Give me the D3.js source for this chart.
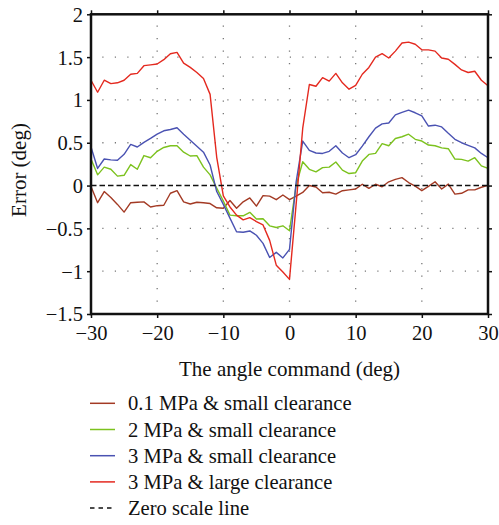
<!DOCTYPE html>
<html>
<head>
<meta charset="utf-8">
<script src="https://cdn.jsdelivr.net/npm/d3@7"></script>
<style>
  html, body { margin: 0; padding: 0; background: #fff; }
  svg { display: block; }
  text { font-family: "Liberation Serif", "DejaVu Serif", serif; fill: #111; }
</style>
</head>
<body>
<svg id="chart" width="499" height="525"></svg>
<script>
// ---- data ----
const angles = [-30,-29,-28,-27,-26,-25,-24,-23,-22,-21,-20,-19,-18,-17,-16,-15,-14,-13,-12,-11,-10,-9,-8,-7,-6,-5,-4,-3,-2,-1,0,1,2,3,4,5,6,7,8,9,10,11,12,13,14,15,16,17,18,19,20,21,22,23,24,25,26,27,28,29,30];

const err01Small = [-0.01,-0.20,-0.07,-0.14,-0.22,-0.31,-0.20,-0.195,-0.19,-0.25,-0.235,-0.23,-0.09,-0.06,-0.19,-0.215,-0.195,-0.20,-0.21,-0.26,-0.265,-0.175,-0.265,-0.19,-0.145,-0.24,-0.117,-0.123,-0.165,-0.11,-0.165,-0.123,-0.08,0.0,-0.017,-0.084,-0.078,-0.10,-0.06,-0.05,-0.04,0.015,-0.033,0.015,-0.014,0.044,0.072,0.092,0.035,-0.006,-0.06,-0.01,0.044,-0.04,0.017,-0.10,-0.09,-0.05,-0.05,-0.02,0.003];

const err2Small = [0.31,0.125,0.215,0.19,0.11,0.12,0.245,0.19,0.35,0.325,0.40,0.445,0.465,0.465,0.39,0.345,0.35,0.215,0.125,-0.03,-0.18,-0.345,-0.353,-0.353,-0.313,-0.39,-0.388,-0.47,-0.49,-0.47,-0.528,0.0,0.278,0.19,0.16,0.21,0.215,0.275,0.18,0.14,0.15,0.286,0.364,0.376,0.49,0.465,0.55,0.57,0.60,0.54,0.52,0.473,0.465,0.44,0.43,0.31,0.306,0.286,0.325,0.23,0.20];

const err3Small = [0.45,0.20,0.31,0.30,0.295,0.365,0.48,0.45,0.505,0.55,0.60,0.64,0.655,0.675,0.60,0.53,0.46,0.39,0.24,-0.07,-0.22,-0.38,-0.54,-0.545,-0.53,-0.58,-0.675,-0.84,-0.78,-0.845,-0.745,0.04,0.52,0.41,0.38,0.375,0.40,0.465,0.38,0.325,0.36,0.46,0.57,0.67,0.72,0.73,0.825,0.855,0.88,0.85,0.815,0.695,0.705,0.685,0.61,0.54,0.50,0.47,0.44,0.375,0.325];

const err3Large = [1.23,1.09,1.23,1.19,1.20,1.23,1.30,1.31,1.40,1.41,1.42,1.47,1.54,1.555,1.43,1.38,1.32,1.25,1.065,0.33,-0.12,-0.25,-0.345,-0.40,-0.375,-0.42,-0.46,-0.64,-0.93,-1.01,-1.096,-0.22,0.67,1.18,1.16,1.26,1.22,1.31,1.20,1.125,1.17,1.30,1.38,1.50,1.54,1.49,1.57,1.665,1.675,1.65,1.585,1.585,1.57,1.49,1.475,1.415,1.35,1.32,1.335,1.23,1.165];

const seriesNames = ["0.1 MPa & small clearance","2 MPa & small clearance","3 MPa & small clearance","3 MPa & large clearance"];
const seriesColors = ["#a33a24","#7cc21e","#4a52b2","#e4291f"];
const zeroLabel = "Zero scale line";

const xTicks = [-30,-20,-10,0,10,20,30];
const yTicks = [2,1.5,1,0.5,0,-0.5,-1,-1.5];
const xTitle = "The angle command (deg)";
const yTitle = "Error (deg)";

// ---- layout ----
const svg = d3.select("#chart");
const L = 91, R = 488, T = 14.3, B = 314;
const x = d3.scaleLinear().domain([-30,30]).range([L,R]);
const y = d3.scaleLinear().domain([-1.5,2]).range([B,T]);
const fmt = v => (v < 0 ? "\u2212" + Math.abs(v) : String(v));

// grid (dotted)
const grid = svg.append("g").attr("stroke","#777").attr("stroke-width",1.3)
  .attr("stroke-dasharray","1.2,11.3").attr("fill","none");
xTicks.filter(v => v > -30 && v < 30).forEach(v => {
  grid.append("line").attr("x1",x(v)).attr("x2",x(v)).attr("y1",T).attr("y2",B)
    .attr("stroke-dashoffset",-11.3);
});
yTicks.filter(v => v > -1.5 && v < 2 && v !== 0).forEach(v => {
  grid.append("line").attr("x1",L).attr("x2",R).attr("y1",y(v)).attr("y2",y(v))
    .attr("stroke-dashoffset",-11.3);
});

// series
const allSeries = [err01Small, err2Small, err3Small, err3Large];
const line = d3.line().x((d,i) => x(angles[i])).y(d => y(d));
allSeries.forEach((s,k) => {
  svg.append("path").datum(s).attr("d",line).attr("fill","none")
    .attr("stroke",seriesColors[k]).attr("stroke-width",1.4).attr("stroke-linejoin","round");
});

// zero line
svg.append("line").attr("x1",L).attr("x2",R).attr("y1",y(0)).attr("y2",y(0))
  .attr("stroke","#111").attr("stroke-width",1.5).attr("stroke-dasharray","5.5,3");

// axes (outward ticks)
const axB = d3.axisBottom(x).tickValues(xTicks).tickSize(4).tickFormat(fmt);
const axT = d3.axisTop(x).tickValues(xTicks).tickSize(4).tickFormat("");
const axLf = d3.axisLeft(y).tickValues(yTicks).tickSize(4).tickFormat(fmt);
const axRt = d3.axisRight(y).tickValues(yTicks).tickSize(4).tickFormat("");
function styleAxis(g){
  g.select(".domain").remove();
  g.attr("font-family",null);
  g.selectAll(".tick line").attr("stroke","#111").attr("stroke-width",1.5);
  g.selectAll(".tick text").attr("font-size",20.5).attr("fill","#111");
}
svg.append("g").attr("transform",`translate(0,${B})`).call(axB).call(styleAxis)
  .selectAll(".tick text").attr("dy",null).attr("y",26);
svg.append("g").attr("transform",`translate(0,${T})`).call(axT).call(styleAxis);
svg.append("g").attr("transform",`translate(${L},0)`).call(axLf).call(styleAxis)
  .selectAll(".tick text").attr("x",-8).attr("dy","0.34em");
svg.append("g").attr("transform",`translate(${R},0)`).call(axRt).call(styleAxis);

// frame
svg.append("rect").attr("x",L).attr("y",T).attr("width",R-L).attr("height",B-T)
  .attr("fill","none").attr("stroke","#111").attr("stroke-width",2.5);

// titles
svg.append("text").attr("x",(L+R)/2).attr("y",376).attr("text-anchor","middle")
  .attr("font-size",21).text(xTitle);
svg.append("text").attr("transform",`translate(26,170) rotate(-90)`)
  .attr("text-anchor","middle").attr("font-size",21).text(yTitle);

// legend
const lg = svg.append("g");
const legY0 = 403.3, legDy = 26.2;
seriesNames.forEach((name,k) => {
  const yy = legY0 + k*legDy;
  lg.append("line").attr("x1",90).attr("x2",115).attr("y1",yy).attr("y2",yy)
    .attr("stroke",seriesColors[k]).attr("stroke-width",1.5);
  lg.append("text").attr("x",128).attr("y",yy+7).attr("font-size",20.6).text(name);
});
{
  const yy = legY0 + 4*legDy;
  lg.append("line").attr("x1",90).attr("x2",115).attr("y1",yy).attr("y2",yy)
    .attr("stroke","#111").attr("stroke-width",1.5).attr("stroke-dasharray","4.5,4");
  lg.append("text").attr("x",128).attr("y",yy+7).attr("font-size",20.6).text(zeroLabel);
}
</script>
</body>
</html>
